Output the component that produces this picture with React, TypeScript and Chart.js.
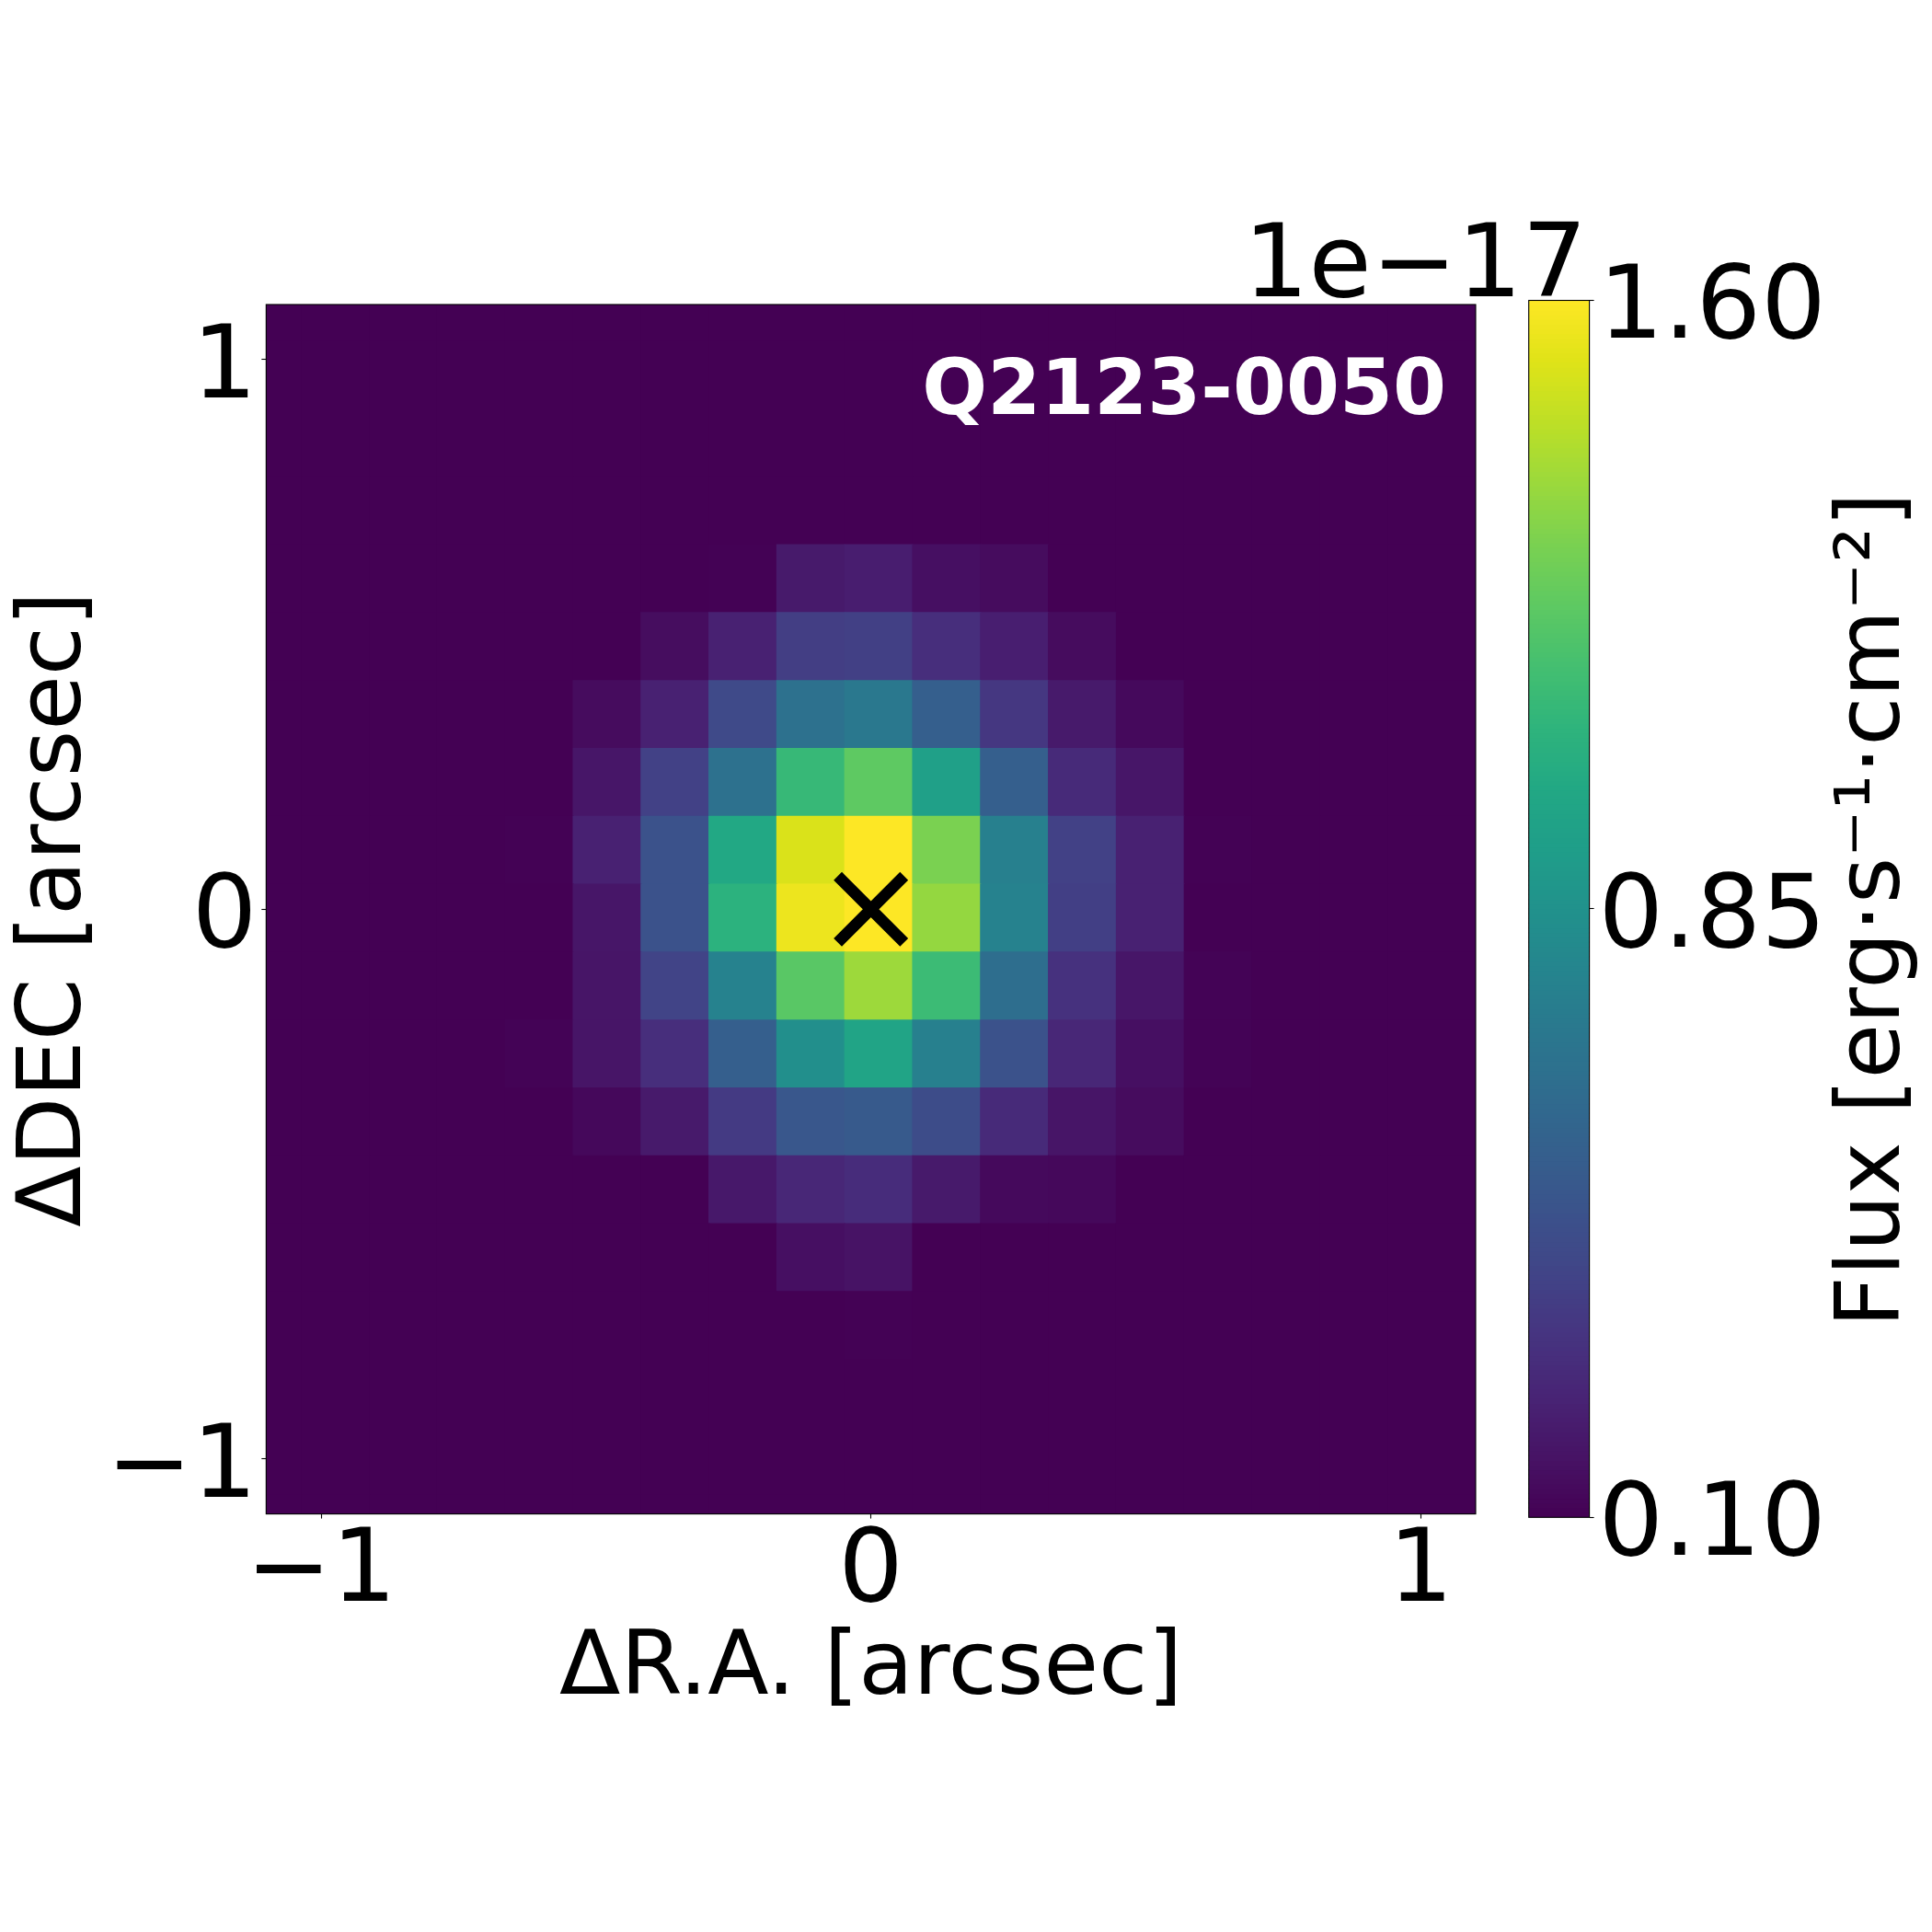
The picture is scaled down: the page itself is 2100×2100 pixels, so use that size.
import React, { useEffect, useRef } from "react";
import { Chart, registerables } from "chart.js";

Chart.register(...registerables);

const FONT = '"DejaVu Sans"';

// viridis stops, every 5%
const viridis = [
  "#440154", "#471365", "#482475", "#463480", "#414487", "#3b528b", "#355f8d",
  "#2f6c8e", "#2a788e", "#25858e", "#21918c", "#1f9e89", "#22a884", "#2fb47c",
  "#44bf70", "#5ec962", "#7ad151", "#9bd93c", "#bddf26", "#dfe318", "#fde725",
];

const vMin = 0.1;
const vMax = 1.6;
const colorbarTicks = [0.1, 0.85, 1.6];
const axisTicks = [-1, 0, 1];
const limit = 1.1;
const cellSize = 0.1235;
const firstColumnCentre = -0.6033; // centre of the first column of fluxRows
const firstRowCentre = 0.6012; // centre of the first (top) row of fluxRows
const sourcePosition = [{ x: 0, y: 0 }];
const gridStart = -4; // empty sky cells before the first row/column of fluxRows
const gridEnd = 14; // last index of the sky grid

// flux in units of 1e-17, top row first, left column first
const fluxRows = [
  [0.10, 0.10, 0.10, 0.105, 0.205, 0.22, 0.16, 0.145, 0.10, 0.10, 0.10],
  [0.10, 0.10, 0.15, 0.235, 0.37, 0.38, 0.295, 0.225, 0.145, 0.10, 0.10],
  [0.10, 0.145, 0.235, 0.43, 0.655, 0.70, 0.55, 0.34, 0.205, 0.135, 0.10],
  [0.10, 0.19, 0.385, 0.655, 1.105, 1.225, 0.94, 0.55, 0.28, 0.19, 0.10],
  [0.103, 0.235, 0.475, 1.0, 1.515, 1.60, 1.30, 0.745, 0.385, 0.235, 0.103],
  [0.102, 0.19, 0.475, 1.06, 1.56, 1.60, 1.36, 0.76, 0.378, 0.235, 0.102],
  [0.10, 0.183, 0.40, 0.76, 1.21, 1.38, 1.12, 0.64, 0.31, 0.19, 0.108],
  [0.108, 0.183, 0.295, 0.55, 0.835, 0.97, 0.745, 0.475, 0.265, 0.16, 0.108],
  [0.10, 0.13, 0.205, 0.355, 0.505, 0.52, 0.445, 0.28, 0.183, 0.145, 0.10],
  [0.10, 0.10, 0.10, 0.198, 0.265, 0.288, 0.205, 0.135, 0.13, 0.10, 0.10],
  [0.10, 0.10, 0.10, 0.10, 0.16, 0.175, 0.10, 0.10, 0.10, 0.10, 0.10],
  [0.10, 0.10, 0.10, 0.10, 0.10, 0.103, 0.10, 0.10, 0.10, 0.10, 0.10],
];

const hexToRgb = (h: string) => [1, 3, 5].map((i) => parseInt(h.slice(i, i + 2), 16));
function colorFor(value: number) {
  const t = Math.min(1, Math.max(0, (value - vMin) / (vMax - vMin)));
  const p = t * (viridis.length - 1);
  const i = Math.min(viridis.length - 2, Math.floor(p));
  const a = hexToRgb(viridis[i]);
  const b = hexToRgb(viridis[i + 1]);
  const c = a.map((v, n) => Math.round(v + (b[n] - v) * (p - i)));
  return `rgb(${c[0]},${c[1]},${c[2]})`;
}

const gridIndex = Array.from({ length: gridEnd - gridStart + 1 }, (_, i) => gridStart + i);
const cells = gridIndex.flatMap((r) =>
  gridIndex.map((c) => {
    const cy = firstRowCentre - r * cellSize;
    return {
      x: firstColumnCentre + c * cellSize,
      y: [cy - cellSize / 2, cy + cellSize / 2],
      value: fluxRows[r]?.[c] ?? vMin,
    };
  })
);

const levels = Array.from({ length: 256 }, (_, i) => i);
const levelStep = (vMax - vMin) / levels.length;
const colorbarCells = levels.map((i) => ({
  x: 0.5,
  y: [vMin + i * levelStep, vMin + (i + 1) * levelStep],
  value: vMin + (i + 0.5) * levelStep,
}));

const plotBackground = {
  id: "plotBackground",
  beforeDatasetsDraw(chart: any) {
    const { ctx, chartArea: a } = chart;
    ctx.save();
    ctx.fillStyle = viridis[0];
    ctx.fillRect(a.left, a.top, a.right - a.left, a.bottom - a.top);
    ctx.restore();
  },
};

const frame = {
  id: "frame",
  afterDraw(chart: any) {
    const { ctx, chartArea: a } = chart;
    ctx.save();
    ctx.strokeStyle = "#000";
    ctx.lineWidth = 1.1;
    ctx.strokeRect(a.left, a.top, a.right - a.left, a.bottom - a.top);
    ctx.restore();
  },
};

const annotations = {
  id: "annotations",
  afterDraw(chart: any) {
    const { ctx } = chart;
    ctx.save();
    ctx.textAlign = "right";
    ctx.textBaseline = "alphabetic";
    ctx.fillStyle = "#fff";
    ctx.font = `bold 83.4px ${FONT}`;
    ctx.fillText("Q2123-0050", 1572, 450);
    ctx.fillStyle = "#000";
    ctx.font = `111px ${FONT}`;
    ctx.fillText("1e\u221217", 1725, 322);
    ctx.restore();
  },
};

const colorbarLabel = {
  id: "colorbarLabel",
  afterDraw(chart: any) {
    const { ctx } = chart;
    ctx.save();
    ctx.translate(2064 - 1600, 989);
    ctx.rotate(-Math.PI / 2);
    ctx.textAlign = "center";
    ctx.textBaseline = "alphabetic";
    ctx.fillStyle = "#000";
    ctx.font = `97px ${FONT}`;
    ctx.fillText("Flux [erg\u00b7s\u207b\u00b9\u00b7cm\u207b\u00b2]", 0, 0);
    ctx.restore();
  },
};

const tickFormat = (v: any) => String(v).replace("-", "\u2212");

export default function App() {
  const mainRef = useRef<HTMLCanvasElement>(null);
  const barRef = useRef<HTMLCanvasElement>(null);

  useEffect(() => {
    document.body.style.margin = "0";
    const main = new Chart(mainRef.current as any, {
      type: "bar",
      data: {
        datasets: [
          {
            type: "scatter",
            data: sourcePosition,
            pointStyle: "crossRot",
            radius: 51,
            borderWidth: 12.5,
            borderColor: "#000",
            order: 0,
          } as any,
          {
            type: "bar",
            data: cells as any,
            backgroundColor: cells.map((c) => colorFor(c.value)),
            barThickness: 73.8,
            inflateAmount: 0.6,
            order: 1,
          } as any,
        ],
      },
      plugins: [plotBackground, frame, annotations],
      options: {
        animation: false,
        responsive: false,
        devicePixelRatio: 1,
        layout: { padding: { top: 331, right: 496, left: 0, bottom: 0 } },
        plugins: { legend: { display: false }, tooltip: { enabled: false } },
        events: [],
        scales: {
          x: {
            type: "linear",
            offset: false,
            min: -limit,
            max: limit,
            afterBuildTicks: (s: any) => {
              s.ticks = axisTicks.map((value) => ({ value }));
            },
            afterFit: (s: any) => {
              s.height = 2100 - 1645.6;
            },
            grid: { offset: false, drawOnChartArea: false, tickLength: 5, tickWidth: 1.1, tickColor: "#000" },
            border: { display: false },
            ticks: {
              color: "#000",
              font: { family: FONT, size: 111 },
              padding: -6,
              maxRotation: 0,
              autoSkip: false,
              callback: tickFormat,
            },
            title: {
              display: true,
              text: "\u0394R.A. [arcsec]",
              color: "#000",
              font: { family: FONT, size: 97 },
              padding: { top: 0, bottom: 226 },
            },
          },
          y: {
            type: "linear",
            min: -limit,
            max: limit,
            afterBuildTicks: (s: any) => {
              s.ticks = axisTicks.map((value) => ({ value }));
            },
            afterFit: (s: any) => {
              s.width = 289.3;
            },
            grid: { drawOnChartArea: false, tickLength: 5, tickWidth: 1.1, tickColor: "#000" },
            border: { display: false },
            ticks: {
              color: "#000",
              font: { family: FONT, size: 111 },
              padding: 5,
              labelOffset: 12,
              callback: tickFormat,
            },
            title: {
              display: true,
              text: "\u0394DEC [arcsec]",
              color: "#000",
              font: { family: FONT, size: 97 },
              padding: { top: 4, bottom: 0 },
            },
          },
        },
      } as any,
    });

    const bar = new Chart(barRef.current as any, {
      type: "bar",
      data: {
        datasets: [
          {
            data: colorbarCells as any,
            backgroundColor: colorbarCells.map((c) => colorFor(c.value)),
            barThickness: 66,
            inflateAmount: 0.6,
          } as any,
        ],
      },
      plugins: [frame, colorbarLabel],
      options: {
        animation: false,
        responsive: false,
        devicePixelRatio: 1,
        layout: { padding: { top: 326.5, left: 61.7, right: 0, bottom: 2100 - 1649.3 } },
        plugins: { legend: { display: false }, tooltip: { enabled: false } },
        events: [],
        scales: {
          x: { type: "linear", offset: false, min: 0, max: 1, display: false },
          y: {
            type: "linear",
            position: "right",
            min: vMin,
            max: vMax,
            afterBuildTicks: (s: any) => {
              s.ticks = colorbarTicks.map((value) => ({ value }));
            },
            afterFit: (s: any) => {
              s.width = 500 - 127.6;
            },
            grid: { drawOnChartArea: false, tickLength: 5, tickWidth: 1.1, tickColor: "#000" },
            border: { display: false },
            ticks: {
              color: "#000",
              font: { family: FONT, size: 111 },
              padding: 5,
              labelOffset: 12,
              callback: (v: any) => Number(v).toFixed(2),
            },
          },
        },
      } as any,
    });

    return () => {
      main.destroy();
      bar.destroy();
    };
  }, []);

  return (
    <div style={{ position: "relative", width: 2100, height: 2100 }}>
      <canvas ref={mainRef} width={2100} height={2100} style={{ position: "absolute", left: 0, top: 0 }} />
      <canvas ref={barRef} width={500} height={2100} style={{ position: "absolute", left: 1600, top: 0 }} />
    </div>
  );
}
